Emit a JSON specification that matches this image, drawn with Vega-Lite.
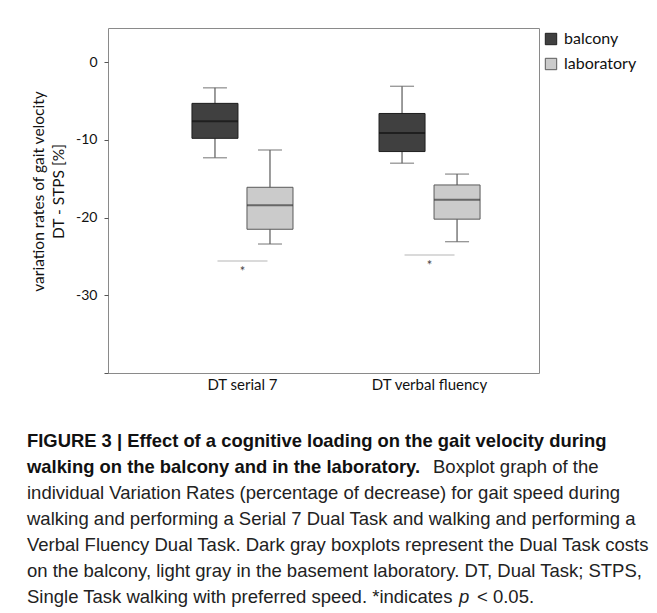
{
  "$schema": "https://vega.github.io/schema/vega-lite/v6.json",
  "padding": {"left": 27, "top": 27, "right": 5, "bottom": 5},
  "config": {"font": "Lato", "view": {"stroke": null}},
  "datasets": {
    "boxes": [
      {"task": "DT serial 7", "place": "balcony", "lower": -12.3, "q1": -9.8, "median": -7.6, "q3": -5.3, "upper": -3.3},
      {"task": "DT serial 7", "place": "laboratory", "lower": -23.4, "q1": -21.5, "median": -18.4, "q3": -16.1, "upper": -11.3},
      {"task": "DT verbal fluency", "place": "balcony", "lower": -13.0, "q1": -11.5, "median": -9.1, "q3": -6.6, "upper": -3.1},
      {"task": "DT verbal fluency", "place": "laboratory", "lower": -23.1, "q1": -20.2, "median": -17.7, "q3": -15.8, "upper": -14.4}
    ],
    "sig": [
      {"task": "DT serial 7", "y": -25.6, "ystar": -27.0, "label": "*"},
      {"task": "DT verbal fluency", "y": -24.8, "ystar": -26.2, "label": "*"}
    ],
    "caption": [
      {"line": 1, "style": "bold", "text": "FIGURE 3 | Effect of a cognitive loading on the gait velocity during"},
      {"line": 2, "style": "bold", "text": "walking on the balcony and in the laboratory."},
      {"line": 2, "style": "after", "text": "Boxplot graph of the"},
      {"line": 3, "style": "regular", "text": "individual Variation Rates (percentage of decrease) for gait speed during"},
      {"line": 4, "style": "regular", "text": "walking and performing a Serial 7 Dual Task and walking and performing a"},
      {"line": 5, "style": "regular", "text": "Verbal Fluency Dual Task. Dark gray boxplots represent the Dual Task costs"},
      {"line": 6, "style": "regular", "text": "on the balcony, light gray in the basement laboratory. DT, Dual Task; STPS,"},
      {"line": 7, "style": "regular", "text": "Single Task walking with preferred speed. *indicates"},
      {"line": 7, "style": "italic", "text": "p"},
      {"line": 7, "style": "tail", "text": "< 0.05."}
    ]
  },
  "spacing": 39,
  "vconcat": [
    {
      "width": 431,
      "height": 345,
      "view": {"stroke": "#8a8a8a", "strokeWidth": 1},
      "encoding": {
        "x": {
          "field": "task", "type": "nominal",
          "scale": {"paddingInner": 0, "paddingOuter": 0.152, "align": 0.72},
          "axis": {"title": null, "ticks": false, "domain": false, "labelAngle": 0, "labelFontSize": 15, "labelColor": "#111", "labelPadding": 4}
        }
      },
      "layer": [
        {
          "data": {"name": "boxes"},
          "mark": {"type": "rule", "color": "#666", "strokeWidth": 1.3},
          "encoding": {
            "xOffset": {"field": "place", "type": "nominal", "scale": {"paddingInner": 0.1636, "paddingOuter": 0.782}},
            "y": {
              "field": "lower", "type": "quantitative",
              "scale": {"domain": [-40, 4.4], "nice": false, "zero": false},
              "axis": {
                "values": [0, -10, -20, -30, -40],
                "labelExpr": "datum.value == -40 ? '' : toString(datum.value)",
                "grid": false, "domain": false, "tickSize": 4, "tickColor": "#555",
                "labelFontSize": 14, "labelColor": "#111", "labelPadding": 7,
                "title": ["variation rates of gait velocity", "DT - STPS [%]"],
                "titleFontSize": 15.5, "titleFontWeight": "normal", "titleColor": "#111",
                "titlePadding": 9, "titleLineHeight": 20, "titleY": 163
              }
            },
            "y2": {"field": "upper"}
          }
        },
        {
          "data": {"name": "boxes"},
          "mark": {"type": "tick", "color": "#666", "size": 24, "thickness": 1.3},
          "encoding": {
            "xOffset": {"field": "place", "type": "nominal"},
            "y": {"field": "lower", "type": "quantitative"}
          }
        },
        {
          "data": {"name": "boxes"},
          "mark": {"type": "tick", "color": "#666", "size": 24, "thickness": 1.3},
          "encoding": {
            "xOffset": {"field": "place", "type": "nominal"},
            "y": {"field": "upper", "type": "quantitative"}
          }
        },
        {
          "data": {"name": "boxes"},
          "mark": {"type": "bar", "strokeWidth": 1},
          "encoding": {
            "xOffset": {"field": "place", "type": "nominal"},
            "y": {"field": "q1", "type": "quantitative"},
            "y2": {"field": "q3"},
            "color": {
              "field": "place", "type": "nominal",
              "scale": {"domain": ["balcony", "laboratory"], "range": ["#404040", "#cbcbcb"]},
              "legend": {
                "orient": "none", "legendX": 435, "legendY": 3, "title": null, "padding": 0,
                "symbolType": "square", "symbolSize": 130, "symbolStrokeColor": "#333", "symbolStrokeWidth": 1,
                "labelFontSize": 16, "labelColor": "#111", "labelOffset": 5, "rowPadding": 9
              }
            },
            "stroke": {
              "field": "place", "type": "nominal",
              "scale": {"domain": ["balcony", "laboratory"], "range": ["#1e1e1e", "#5a5a5a"]},
              "legend": null
            }
          }
        },
        {
          "data": {"name": "boxes"},
          "transform": [{"filter": "datum.place == 'balcony'"}],
          "mark": {"type": "tick", "color": "#111", "size": 46, "thickness": 2},
          "encoding": {
            "xOffset": {"field": "place", "type": "nominal"},
            "y": {"field": "median", "type": "quantitative"}
          }
        },
        {
          "data": {"name": "boxes"},
          "transform": [{"filter": "datum.place == 'laboratory'"}],
          "mark": {"type": "tick", "color": "#3c3c3c", "size": 46, "thickness": 2},
          "encoding": {
            "xOffset": {"field": "place", "type": "nominal"},
            "y": {"field": "median", "type": "quantitative"}
          }
        },
        {
          "data": {"name": "sig"},
          "mark": {"type": "tick", "color": "#999", "size": 50, "thickness": 1},
          "encoding": {
            "y": {"field": "y", "type": "quantitative"}
          }
        },
        {
          "data": {"name": "sig"},
          "mark": {"type": "text", "color": "#444", "fontSize": 13, "baseline": "middle"},
          "encoding": {
            "y": {"field": "ystar", "type": "quantitative"},
            "text": {"field": "label"}
          }
        }
      ]
    },
    {
      "width": 620,
      "height": 156,
      "view": {"stroke": null},
      "data": {"name": "caption"},
      "encoding": {
        "x": {"datum": 0, "type": "quantitative", "scale": {"domain": [0, 1]}, "axis": null},
        "y": {"field": "line", "type": "ordinal", "scale": {"type": "point", "padding": 0}, "axis": null},
        "text": {"field": "text"}
      },
      "layer": [
        {
          "transform": [{"filter": "datum.style == 'bold'"}],
          "mark": {"type": "text", "align": "left", "baseline": "alphabetic", "font": "Liberation Sans", "fontWeight": "bold", "fontSize": 18.4, "color": "#111", "dx": -81}
        },
        {
          "transform": [{"filter": "datum.style == 'regular'"}],
          "mark": {"type": "text", "align": "left", "baseline": "alphabetic", "font": "Liberation Sans", "fontSize": 18.5, "color": "#222", "dx": -81}
        },
        {
          "transform": [{"filter": "datum.style == 'after'"}],
          "mark": {"type": "text", "align": "left", "baseline": "alphabetic", "font": "Liberation Sans", "fontSize": 18.5, "color": "#222", "dx": 325}
        },
        {
          "transform": [{"filter": "datum.style == 'italic'"}],
          "mark": {"type": "text", "align": "left", "baseline": "alphabetic", "font": "Liberation Sans", "fontStyle": "italic", "fontSize": 18.5, "color": "#222", "dx": 351}
        },
        {
          "transform": [{"filter": "datum.style == 'tail'"}],
          "mark": {"type": "text", "align": "left", "baseline": "alphabetic", "font": "Liberation Sans", "fontSize": 18.5, "color": "#222", "dx": 369}
        }
      ]
    }
  ]
}
